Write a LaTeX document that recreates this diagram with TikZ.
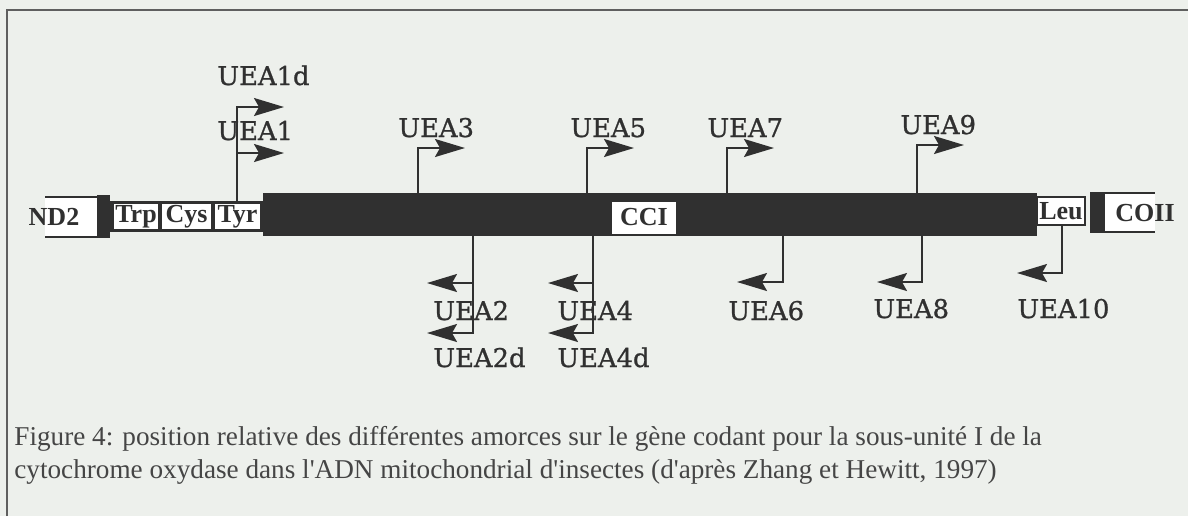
\documentclass[tikz,border=0pt]{standalone}
\usepackage{fontspec}
\setmainfont{Liberation Serif}
\newfontfamily\primerfont[FakeBold=0.9]{DejaVu Serif}
\usetikzlibrary{arrows.meta, positioning}
\definecolor{ink}{RGB}{48,48,48}
\definecolor{paper}{RGB}{237,240,236}
\definecolor{rule}{RGB}{95,95,95}

\begin{document}
\begin{tikzpicture}[
    x=0.5pt, y=-0.5pt,
    primer/.style={font=\primerfont\fontsize{12.9}{15}\selectfont, text=ink,
                   inner sep=0pt, anchor=base west},
    gene/.style={font=\bfseries\fontsize{13}{14}\selectfont, text=ink, inner sep=0pt},
    trna/.style={gene, draw=ink, line width=1pt, fill=white, minimum height=13.5pt},
    caption/.style={font=\fontsize{13.6}{16.5}\selectfont, text=ink!90, inner sep=0pt,
                    anchor=base west},
    fwd/.style={-{Stealth[length=15pt, width=9pt, inset=2.5pt]}, line width=1pt, draw=ink},
    rev/.style={fwd}
]
\fill[paper] (0,0) rectangle (1188,516);
\useasboundingbox (0,0) rectangle (1188,516);
\draw[rule, line width=1pt] (7,516) -- (7,9.5) -- (1188,9.5);

%% ---- gene map ---------------------------------------------------
\fill[white] (45,197) rectangle (97,237);
\draw[ink, line width=1pt] (45,197) -- (97,197) (45,237) -- (97,237);
\node[gene] (nd2) at (54,217) {ND2};
\fill[ink] (97,195) rectangle (110,238);
\fill[ink] (110,201) rectangle (263,232);
\node[trna, minimum width=23pt]   (trp) at (136,216.5)   {Trp};
\node[trna, minimum width=25.5pt] (cys) at (186.5,216.5) {Cys};
\node[trna, minimum width=23.5pt] (tyr) at (237.5,216.5) {Tyr};
\node[fill=ink, inner sep=0pt, minimum width=387pt, minimum height=21.5pt]
     (coi) at (650,214.5) {};
\node[gene, draw=ink, line width=1pt, fill=white, minimum width=33pt,
      minimum height=17pt] (cci) at (644,217.5) {CCI};
\node[trna, minimum width=24pt, minimum height=14pt] (leu) at (1061,211) {Leu};
\fill[ink] (1090,192) rectangle (1105,233);
\fill[white] (1105,193) rectangle (1155,232);
\draw[ink, line width=1pt] (1105,193) -- (1155,193) (1105,232) -- (1155,232);
\node[gene] (coii) at (1145,213) {COII};

%% ---- forward primers (above) ---------------------------------------
\coordinate (b1) at (237,201);
\coordinate (t1d) at (284,107);
\coordinate (t1) at (284,153);
\coordinate (b3) at (418,193);
\coordinate (t3) at (465,148);
\coordinate (b5) at (587,193);
\coordinate (t5) at (634,148);
\coordinate (b7) at (727,193);
\coordinate (t7) at (774,148);
\coordinate (b9) at (917,193);
\coordinate (t9) at (964,145);

\draw[fwd] (b1) |- (t1d);
\draw[fwd] (b1 |- t1) -- (t1);
\draw[fwd] (b3) |- (t3);
\draw[fwd] (b5) |- (t5);
\draw[fwd] (b7) |- (t7);
\draw[fwd] (b9) |- (t9);

\node[primer] (uea1d) at (217,85)  {UEA1d};
\node[primer] (uea1)  at (217,140) {UEA1};
\node[primer] (uea3)  at (398,137) {UEA3};
\node[primer] (uea5)  at (570,137) {UEA5};
\node[primer] (uea7)  at (707,137) {UEA7};
\node[primer] (uea9)  at (900,134) {UEA9};

%% ---- reverse primers (below) ---------------------------------------
\coordinate (b2) at (473,236);
\coordinate (t2) at (427,283);
\coordinate (t2d) at (427,333);
\coordinate (b4) at (593,236);
\coordinate (t4) at (548,283);
\coordinate (t4d) at (548,333);
\coordinate (b6) at (783,236);
\coordinate (t6) at (737,282);
\coordinate (b8) at (922,236);
\coordinate (t8) at (877,282);
\coordinate (b10) at (1062,225);
\coordinate (t10) at (1017,273);

\draw[rev] (b2) |- (t2d);
\draw[rev] (b2 |- t2) -- (t2);
\draw[rev] (b4) |- (t4d);
\draw[rev] (b4 |- t4) -- (t4);
\draw[rev] (b6) |- (t6);
\draw[rev] (b8) |- (t8);
\draw[rev] (b10) |- (t10);

\node[primer] (uea2)  at (433,320) {UEA2};
\node[primer] (uea2d) at (433,367) {UEA2d};
\node[primer] (uea4)  at (557,320) {UEA4};
\node[primer] (uea4d) at (557,367) {UEA4d};
\node[primer] (uea6)  at (728,320) {UEA6};
\node[primer] (uea8)  at (873,318) {UEA8};
\node[primer] (uea10) at (1017,318) {UEA10};

%% ---- caption -------------------------------------------------------
\node[caption] (cap1) at (14,445)
  {Figure 4: position relative des différentes amorces sur le gène codant pour la sous-unité I de la};
\node[caption] (cap2) at (14,478)
  {cytochrome oxydase dans l\textquotesingle ADN mitochondrial d\textquotesingle insectes (d\textquotesingle après Zhang et Hewitt, 1997)};
\end{tikzpicture}
\end{document}
